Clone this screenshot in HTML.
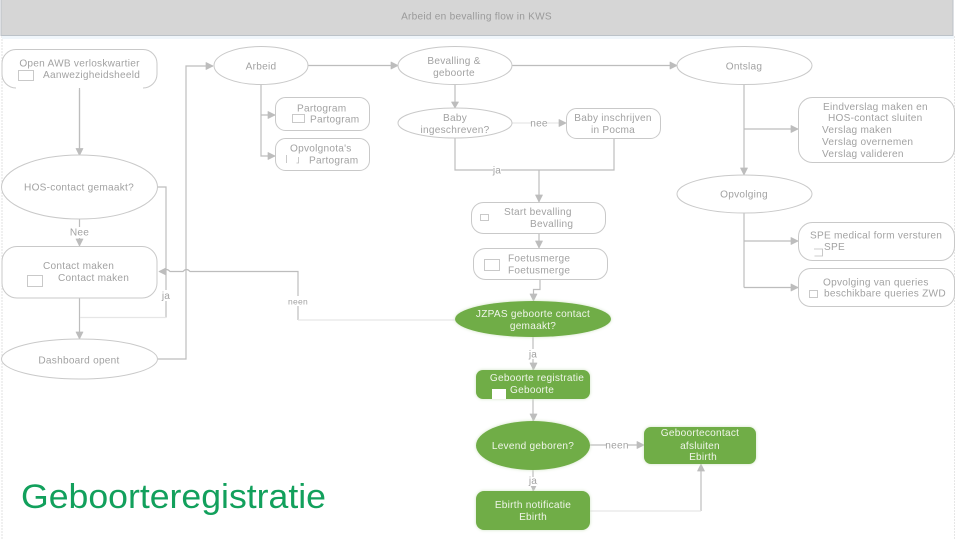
<!DOCTYPE html>
<html><head><meta charset="utf-8"><style>
html,body{margin:0;padding:0;background:#fff;width:960px;height:540px;overflow:hidden}
svg{display:block;filter:blur(.3px)}
text{font-family:"Liberation Sans",sans-serif;font-size:10.1px;fill:#a2a2a2;letter-spacing:.25px}
.w{fill:#f0f5ea}
.m{text-anchor:middle}
.n{fill:#fff;stroke:#c9c9c9;stroke-width:1}
.g{fill:#70ad47;stroke:none;filter:drop-shadow(0 0 1.5px #cfe3c2)}
.c{fill:none;stroke:#bdbdbd;stroke-width:1.2}
.l{fill:none;stroke:#e6e6e6;stroke-width:1.2}
.a{fill:#bdbdbd;stroke:#bdbdbd;stroke-width:.7;stroke-linejoin:round}
.d{fill:#fff;stroke:#bcbcbc;stroke-width:.8}
</style></head><body>
<svg width="960" height="540" viewBox="0 0 960 540">
<rect x="2" y="36" width="952" height="504" fill="#fff"/>
<line x1="2" y1="36" x2="2" y2="540" stroke="#e2e2e2" stroke-dasharray="2 1"/>
<line x1="954.500" y1="36" x2="954.500" y2="540" stroke="#e6e6e6" stroke-dasharray="2 1"/>
<rect x="1" y="-1" width="952" height="36.500" fill="#d6d6d6" stroke="#bcc2c8"/>
<rect x="2" y="36" width="952" height="3" fill="#f0f6fb"/>
<text x="476.500" y="19.500" class="m" style="fill:#9a9a9a">Arbeid en bevalling flow in KWS</text>

<!-- connectors -->
<path class="c" d="M79.500 88V155M158 359H186V66H213M308 65.500H398M512 65.500H677M261 84V156H275M261 115H275M455 84V108M455 138V170H539V202M614 138V170H539M744 84V175M744 129H798M744 213V287.500M744 241H798M744 287.500H798M79.500 219V246M79.500 298V339M157 187H166V317.500"/>
<path class="l" d="M166 317.500H80"/>
<path class="c" d="M298 320V271.500H190q-3.500-4-7 0H170q-3.500-4-7 0H160"/>
<path class="l" d="M298 320H455M512 123H566"/>
<path class="c" d="M540 279V289.500H533.500V301M533 337V370M533 399V421M533 470V491M590 445H644M701 464V511M539 234V248"/>
<path class="l" d="M590 511H701"/>
<g class="a">
<path d="M206 62.500l7 3.500-7 3.500z"/>
<path d="M391 62l7 3.500-7 3.500z"/>
<path d="M670 62l7 3.500-7 3.500z"/>
<path d="M268 111.500l7 3.500-7 3.500z"/>
<path d="M268 152.500l7 3.500-7 3.500z"/>
<path d="M76 148.500h7l-3.500 7z"/>
<path d="M76 239h7l-3.500 7z"/>
<path d="M76 332h7l-3.500 7z"/>
<path d="M159 271.500l7-3.500v7z"/>
<path d="M451.500 102h7l-3.500 6z"/>
<path d="M559 119.500l7 3.500-7 3.500z"/>
<path d="M535.500 195h7l-3.500 7z"/>
<path d="M535.500 241h7l-3.500 7z"/>
<path d="M530 294h7l-3.500 7z"/>
<path d="M530 363h7l-3.500 7z"/>
<path d="M530 414h7l-3.500 7z"/>
<path d="M530 484h7l-3.500 7z"/>
<path d="M637 441.500l7 3.500-7 3.500z"/>
<path d="M697.500 471l3.500-7 3.500 7z"/>
<path d="M740.500 168h7l-3.500 7z"/>
<path d="M791 125.500l7 3.500-7 3.500z"/>
<path d="M791 237.500l7 3.500-7 3.500z"/>
<path d="M791 284l7 3.500-7 3.500z"/>
</g>

<!-- white nodes -->
<rect class="n" x="2" y="49.500" width="155" height="38.500" rx="14"/>
<rect x="16" y="86" width="127" height="4" fill="#fff"/>
<path class="c" d="M79.500 88V150"/>
<ellipse class="n" cx="261" cy="65.500" rx="47" ry="19"/>
<rect class="n" x="275.500" y="97.500" width="94" height="33" rx="10"/>
<rect class="n" x="275.500" y="138.500" width="94" height="32" rx="10"/>
<ellipse class="n" cx="455" cy="65.500" rx="57" ry="19"/>
<ellipse class="n" cx="455" cy="123" rx="57" ry="15"/>
<rect class="n" x="566.500" y="108.500" width="94" height="30" rx="10"/>
<ellipse class="n" cx="744.500" cy="65.500" rx="67.500" ry="19"/>
<rect class="n" x="798.500" y="97.500" width="156" height="65" rx="14"/>
<ellipse class="n" cx="744.500" cy="194" rx="67.500" ry="19"/>
<rect class="n" x="798.500" y="222.500" width="156" height="38" rx="14"/>
<rect class="n" x="798.500" y="268.500" width="156" height="38" rx="12"/>
<rect class="n" x="471.500" y="202.500" width="134" height="31" rx="12"/>
<rect class="n" x="473.500" y="248.500" width="134" height="31" rx="12"/>
<ellipse class="n" cx="79.500" cy="187" rx="78" ry="32"/>
<rect class="n" x="2" y="246.500" width="155" height="51.500" rx="15"/>
<ellipse class="n" cx="79.500" cy="359" rx="78" ry="20"/>

<!-- green nodes -->
<ellipse class="g" cx="533" cy="319" rx="78" ry="18"/>
<rect class="g" x="476" y="370" width="114" height="29" rx="7"/>
<ellipse class="g" cx="533" cy="445.500" rx="57" ry="24.500"/>
<rect class="g" x="476" y="491" width="114" height="39" rx="8"/>
<rect class="g" x="644" y="427" width="112" height="37" rx="7"/>

<!-- small doc icons -->
<rect class="d" x="18.500" y="70.500" width="15" height="10"/>
<rect class="d" x="292.500" y="114.500" width="12" height="8"/>
<path fill="none" stroke="#bcbcbc" stroke-width=".8" d="M286.500 155v8M298.500 157v6h-2"/>
<rect class="d" x="27.500" y="275.500" width="15" height="11"/>
<rect class="d" x="480.500" y="214.500" width="8" height="6"/>
<rect class="d" x="484.500" y="259.500" width="15" height="11"/>
<path fill="none" stroke="#bcbcbc" stroke-width=".8" d="M814 249h9M822.500 249v7h-8"/>
<rect class="d" x="809.500" y="290.500" width="8" height="7"/>
<rect x="492" y="389" width="14" height="10" fill="#fff"/>

<!-- labels on lines -->
<rect x="71" y="227" width="18" height="11" fill="#fff"/>
<text x="79.500" y="235.500" class="m">Nee</text>
<rect x="161" y="290" width="10" height="11" fill="#fff"/>
<text x="166" y="299" class="m">ja</text>
<rect x="288" y="296" width="20" height="10" fill="#fff"/>
<text x="298" y="304.500" class="m" style="font-size:8.500px">neen</text>
<rect x="531" y="118" width="16" height="10" fill="#fff"/>
<text x="539" y="126.500" class="m">nee</text>
<rect x="493" y="167" width="8" height="6" fill="#fff"/>
<text x="497" y="173.500" class="m">ja</text>
<rect x="529" y="349" width="8" height="10" fill="#fff"/>
<text x="533" y="357.500" class="m">ja</text>
<rect x="606" y="440" width="22" height="10" fill="#fff"/>
<text x="617" y="448.500" class="m">neen</text>
<rect x="529" y="477" width="8" height="9" fill="#fff"/>
<text x="533" y="484" class="m">ja</text>

<!-- white node text -->
<text x="79.500" y="66.500" class="m">Open AWB verloskwartier</text>
<text x="43" y="78">Aanwezigheidsheeld</text>
<text x="261" y="69.500" class="m">Arbeid</text>
<text x="297" y="111.500">Partogram</text>
<text x="310" y="122.500">Partogram</text>
<text x="290" y="151.500">Opvolgnota's</text>
<text x="309" y="163.500">Partogram</text>
<text x="454" y="64" class="m">Bevalling &amp;</text>
<text x="454" y="76" class="m">geboorte</text>
<text x="455" y="121" class="m">Baby</text>
<text x="455" y="133" class="m">ingeschreven?</text>
<text x="613" y="121" class="m">Baby inschrijven</text>
<text x="613" y="133" class="m">in Pocma</text>
<text x="744" y="69.500" class="m">Ontslag</text>
<text x="823" y="110">Eindverslag maken en</text>
<text x="828" y="121">HOS-contact sluiten</text>
<text x="822" y="133">Verslag maken</text>
<text x="822" y="145">Verslag overnemen</text>
<text x="822" y="157">Verslag valideren</text>
<text x="744" y="197.500" class="m">Opvolging</text>
<text x="810" y="238.500">SPE medical form versturen</text>
<text x="824" y="250">SPE</text>
<text x="823" y="285.500">Opvolging van queries</text>
<text x="824" y="296.500">beschikbare queries ZWD</text>
<text x="504" y="215">Start bevalling</text>
<text x="530" y="227">Bevalling</text>
<text x="508" y="261.500">Foetusmerge</text>
<text x="508" y="273.500">Foetusmerge</text>
<text x="79" y="190.500" class="m">HOS-contact gemaakt?</text>
<text x="43" y="269">Contact maken</text>
<text x="58" y="281">Contact maken</text>
<text x="79" y="363.500" class="m">Dashboard opent</text>

<!-- green node text -->
<text x="533" y="317" class="m w">JZPAS geboorte contact</text>
<text x="533" y="329" class="m w">gemaakt?</text>
<text x="537" y="381" class="m w">Geboorte registratie</text>
<text x="510" y="393" class="w">Geboorte</text>
<text x="533" y="449" class="m w">Levend geboren?</text>
<text x="533" y="508" class="m w">Ebirth notificatie</text>
<text x="533" y="520" class="m w">Ebirth</text>
<text x="700" y="436" class="m w">Geboortecontact</text>
<text x="700" y="449" class="m w">afsluiten</text>
<text x="703" y="460" class="m w">Ebirth</text>

<text x="21" y="508" textLength="305" lengthAdjust="spacingAndGlyphs" style="font-size:34px;fill:#12a05c;letter-spacing:0">Geboorteregistratie</text>
</svg>
</body></html>
